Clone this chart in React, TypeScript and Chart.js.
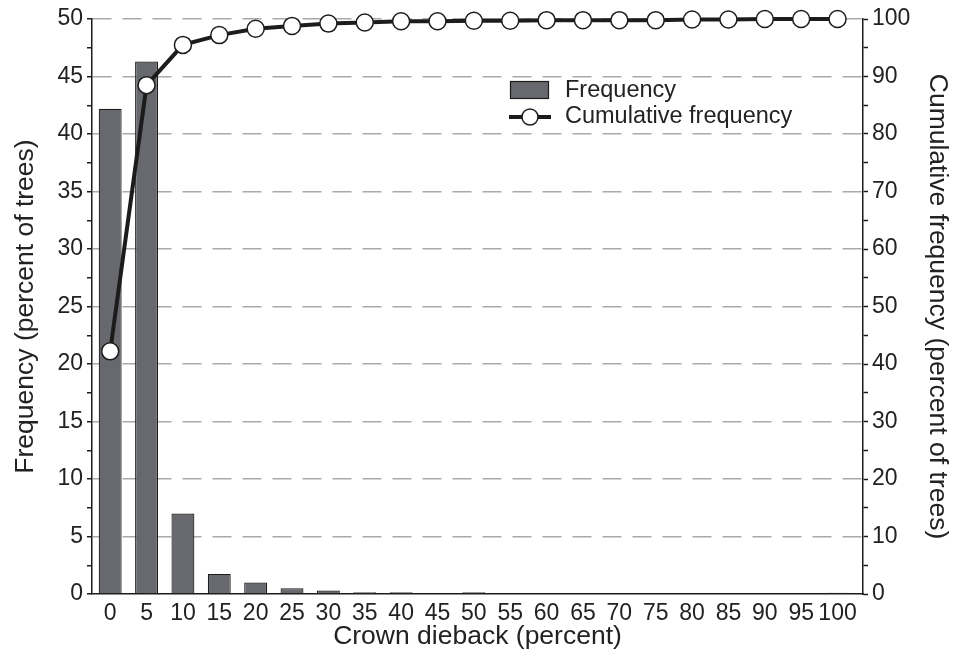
import React, { useEffect, useRef } from "react";
import { Chart, registerables } from "chart.js";

Chart.register(...registerables);

const dieback = [0, 5, 10, 15, 20, 25, 30, 35, 40, 45, 50, 55, 60, 65, 70, 75, 80, 85, 90, 95, 100];
const frequency = [42.2, 46.3, 7.0, 1.75, 1.0, 0.5, 0.3, 0.15, 0.15, 0, 0.15, 0, 0.08, 0, 0, 0, 0, 0, 0, 0, 0.1];
const cumulative = [42.2, 88.5, 95.5, 97.2, 98.3, 98.8, 99.2, 99.4, 99.6, 99.6, 99.7, 99.7, 99.8, 99.8, 99.8, 99.8, 99.9, 99.9, 100, 100, 100];
const leftTicks = [0, 5, 10, 15, 20, 25, 30, 35, 40, 45, 50];
const rightTicks = [0, 10, 20, 30, 40, 50, 60, 70, 80, 90, 100];
const seriesNames = ["Frequency", "Cumulative frequency"];
const axisTitles = ["Crown dieback (percent)", "Frequency (percent of trees)", "Cumulative frequency (percent of trees)"];

const FONT = '"Liberation Sans", Arial, Helvetica, sans-serif';
const TEXT = "#222222";
const BAR_FILL = "#68696e";
const DARK = "#1c1c1c";
const GRID = "#a9a9a9";

const legendPlugin = {
  id: "insideLegend",
  afterDraw(chart: any) {
    const ctx = chart.ctx;
    ctx.save();
    ctx.fillStyle = BAR_FILL;
    ctx.strokeStyle = DARK;
    ctx.lineWidth = 1.2;
    ctx.fillRect(510, 81, 39, 18);
    ctx.strokeRect(510.5, 81.5, 38, 17);
    ctx.strokeStyle = DARK;
    ctx.lineWidth = 4;
    ctx.beginPath();
    ctx.moveTo(509, 117);
    ctx.lineTo(551, 117);
    ctx.stroke();
    ctx.beginPath();
    ctx.arc(530, 117, 8, 0, Math.PI * 2);
    ctx.fillStyle = "#ffffff";
    ctx.fill();
    ctx.lineWidth = 1.5;
    ctx.stroke();
    ctx.fillStyle = TEXT;
    ctx.font = `23.5px ${FONT}`;
    ctx.textBaseline = "middle";
    ctx.textAlign = "left";
    ctx.fillText(seriesNames[0], 565, 91);
    ctx.fillText(seriesNames[1], 565, 117);
    ctx.restore();
  },
};

export default function App() {
  const ref = useRef<HTMLCanvasElement | null>(null);

  useEffect(() => {
    if (!ref.current) return;
    const chart = new Chart(ref.current, {
      type: "bar",
      data: {
        datasets: [
          {
            type: "line",
            label: seriesNames[1],
            data: dieback.map((x, i) => ({ x, y: cumulative[i] })),
            yAxisID: "y2",
            xAxisID: "x",
            borderColor: DARK,
            borderWidth: 4,
            pointRadius: 8.5,
            pointBorderWidth: 1.5,
            pointBackgroundColor: "#ffffff",
            pointBorderColor: DARK,
            tension: 0,
            clip: false,
            order: 0,
          } as any,
          {
            type: "bar",
            label: seriesNames[0],
            data: dieback.map((x, i) => ({ x, y: frequency[i] })),
            yAxisID: "y",
            xAxisID: "x",
            backgroundColor: BAR_FILL,
            borderColor: DARK,
            borderWidth: 1.2,
            barPercentage: 1,
            categoryPercentage: 0.63,
            order: 1,
          } as any,
        ],
      },
      options: {
        responsive: false,
        animation: false,
        devicePixelRatio: 1,
        layout: { padding: { top: 19, left: 0, right: 0, bottom: 0 } },
        plugins: {
          legend: { display: false },
          tooltip: { enabled: false },
        },
        scales: {
          x: {
            type: "linear",
            position: "bottom",
            offset: false,
            min: -2.5,
            max: 103.5,
            afterBuildTicks: (scale: any) => {
              scale.ticks = dieback.map((v) => ({ value: v }));
            },
            afterFit: (scale: any) => {
              scale.height = 67;
            },
            grid: { display: false, drawTicks: false, offset: false },
            border: { display: true, color: DARK, width: 1.5 },
            ticks: {
              autoSkip: false,
              maxRotation: 0,
              minRotation: 0,
              padding: 6,
              color: TEXT,
              font: { family: FONT, size: 23 },
              callback: (v: any) => String(v),
            },
            title: {
              display: true,
              text: axisTitles[0],
              color: TEXT,
              font: { family: FONT, size: 26.5 },
              padding: { top: 0, bottom: 8 },
            },
          },
          y: {
            type: "linear",
            position: "left",
            min: 0,
            max: 50,
            afterBuildTicks: (scale: any) => {
              const t: any[] = [];
              for (let v = 0; v <= 50; v += 2.5) t.push({ value: v });
              scale.ticks = t;
            },
            afterFit: (scale: any) => {
              scale.width = 92;
            },
            grid: {
              drawOnChartArea: true,
              drawTicks: true,
              tickLength: 5,
              tickColor: DARK,
              tickWidth: 1.5,
              tickBorderDash: [],
              lineWidth: 1.5,
              color: (c: any) => {
                const v = c.tick ? c.tick.value : 0;
                return v > 0 && Math.abs(v % 5) < 1e-6 ? GRID : "rgba(0,0,0,0)";
              },
            },
            border: { display: true, color: DARK, width: 1.5, dash: [19, 11] },
            ticks: {
              autoSkip: false,
              padding: 4,
              color: TEXT,
              font: { family: FONT, size: 23 },
              callback: (v: any) => (leftTicks.includes(Number(v)) ? String(v) : ""),
            },
            title: {
              display: true,
              text: axisTitles[1],
              color: TEXT,
              font: { family: FONT, size: 26.5 },
              padding: { top: 10, bottom: 0 },
            },
          },
          y2: {
            type: "linear",
            position: "right",
            min: 0,
            max: 100,
            afterBuildTicks: (scale: any) => {
              const t: any[] = [];
              for (let v = 0; v <= 100; v += 5) t.push({ value: v });
              scale.ticks = t;
            },
            afterFit: (scale: any) => {
              scale.width = 92;
            },
            grid: {
              drawOnChartArea: false,
              drawTicks: true,
              tickLength: 5,
              tickColor: DARK,
              tickWidth: 1.5,
            },
            border: { display: true, color: DARK, width: 1.5 },
            ticks: {
              autoSkip: false,
              padding: 4,
              color: TEXT,
              font: { family: FONT, size: 23 },
              callback: (v: any) => (rightTicks.includes(Number(v)) ? String(v) : ""),
            },
            title: {
              display: true,
              text: axisTitles[2],
              color: TEXT,
              font: { family: FONT, size: 26.5 },
              padding: { top: 2, bottom: 0 },
            },
          },
        },
      } as any,
      plugins: [legendPlugin],
    });
    return () => chart.destroy();
  }, []);

  return (
    <div style={{ position: "fixed", left: 0, top: 0, width: 955, height: 661, background: "#ffffff" }}>
      <canvas ref={ref} width={955} height={661} style={{ display: "block", width: 955, height: 661 }} />
    </div>
  );
}
